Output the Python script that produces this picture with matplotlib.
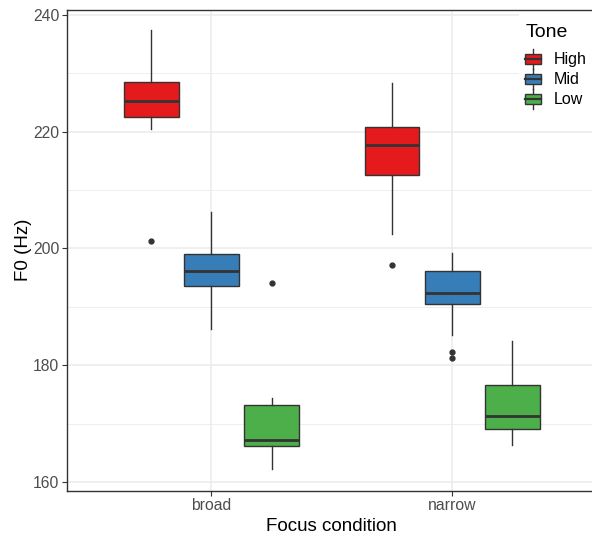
import matplotlib
matplotlib.use("Agg")
import matplotlib.pyplot as plt
from matplotlib.patches import Rectangle
from matplotlib.lines import Line2D
from matplotlib.legend_handler import HandlerBase

plt.rcParams['font.family'] = ['Liberation Sans', 'DejaVu Sans']

categories = ['broad', 'narrow']
tones = ['High', 'Mid', 'Low']
colors = {'High': '#E41A1C', 'Mid': '#377EB8', 'Low': '#4DAF4A'}

whislo = {'High': [220.4, 202.4], 'Mid': [186.2, 185.2], 'Low': [162.2, 166.4]}
q1 = {'High': [222.5, 212.5], 'Mid': [193.6, 190.5], 'Low': [166.2, 169.0]}
med = {'High': [225.3, 217.7], 'Mid': [196.1, 192.3], 'Low': [167.1, 171.3]}
q3 = {'High': [228.5, 220.7], 'Mid': [199.0, 196.1], 'Low': [173.1, 176.6]}
whishi = {'High': [237.4, 228.3], 'Mid': [206.3, 199.2], 'Low': [174.3, 184.2]}
fliers = {'High': [[201.3], [197.2]], 'Mid': [[], [182.3, 181.2]], 'Low': [[194.1], []]}

yticks = [160, 180, 200, 220, 240]
yminor = [170, 190, 210, 230]

W, H = 592, 538
fig = plt.figure(figsize=(W / 100, H / 100), dpi=100)
left, right, bottom, top = 67, 596.7, 538 - 490.7, 538 - 9.5
ax = fig.add_axes([left / W, bottom / H, (right - left) / W, (top - bottom) / H])

edge = '#333333'
offsets = {'High': -0.25, 'Mid': 0.0, 'Low': 0.25}
for t in tones:
    stats = []
    for i in range(len(categories)):
        stats.append(dict(whislo=whislo[t][i], q1=q1[t][i], med=med[t][i],
                          q3=q3[t][i], whishi=whishi[t][i], fliers=fliers[t][i]))
    pos = [i + 1 + offsets[t] for i in range(len(categories))]
    ax.bxp(stats, positions=pos, widths=0.227, patch_artist=True, showcaps=False,
           boxprops=dict(facecolor=colors[t], edgecolor=edge, linewidth=1.0),
           medianprops=dict(color=edge, linewidth=2.0, solid_capstyle='butt'),
           whiskerprops=dict(color=edge, linewidth=1.0),
           flierprops=dict(marker='o', markersize=3.5, markerfacecolor=edge,
                           markeredgecolor=edge), manage_ticks=False, zorder=3)

ax.set_xlim(0.4, 2.6)
ax.set_ylim(158.5, 240.9)
ax.set_xticks([1, 2])
ax.set_xticklabels(categories)
ax.set_yticks(yticks)
ax.set_yticks(yminor, minor=True)
ax.tick_params(axis='both', which='major', colors=edge, labelcolor='#4D4D4D',
               labelsize=11.3, length=3.5, width=0.8, pad=2)
ax.tick_params(axis='y', which='minor', length=0)
ax.grid(True, which='major', color='#EBEBEB', linewidth=1.1, zorder=0)
ax.grid(True, which='minor', axis='y', color='#EBEBEB', linewidth=0.6, zorder=0)
ax.set_axisbelow(True)
for s in ax.spines.values():
    s.set_color(edge)
    s.set_linewidth(1.0)

ax.set_xlabel('Focus condition', fontsize=13.5, color='black', labelpad=3)
ax.set_ylabel('F0 (Hz)', fontsize=13.5, color='black', labelpad=1)

# white legend background inside the panel
ax.add_patch(Rectangle((519 / W, 1 - 113 / H), (W - 519) / W, 101 / H,
                       transform=fig.transFigure, facecolor='white',
                       edgecolor='none', zorder=1, clip_on=False))


class BoxHandler(HandlerBase):
    def create_artists(self, legend, orig_handle, xdescent, ydescent, width, height,
                       fontsize, trans):
        fc = orig_handle.get_facecolor()
        x0, y0 = -xdescent, -ydescent
        cx = x0 + width / 2
        cy = y0 + height / 2
        bh = 10 * 72 / 100
        wl = Line2D([cx, cx], [cy - bh, cy + bh], color=edge, linewidth=1.0,
                    transform=trans)
        rect = Rectangle((x0, cy - bh / 2), width, bh, facecolor=fc,
                         edgecolor=edge, linewidth=1.0, transform=trans)
        ml = Line2D([x0, x0 + width], [cy, cy], color=edge,
                    linewidth=1.6, transform=trans)
        return [wl, rect, ml]


handles = [Rectangle((0, 0), 1, 1, facecolor=colors[t]) for t in tones]
leg = ax.legend(handles, tones, handler_map={Rectangle: BoxHandler()},
                title='Tone', loc='upper left',
                bbox_to_anchor=(519 / W, 1 - 18 / H), bbox_transform=fig.transFigure,
                frameon=False,
                fontsize=11.5, title_fontsize=14, handlelength=1.0, handleheight=0.9,
                handletextpad=0.75, labelspacing=0.3, borderpad=0.4,
                borderaxespad=0, alignment='left')
leg._legend_box.sep = 7.8
leg.set_zorder(5)

fig.savefig('out.png', dpi=100)
